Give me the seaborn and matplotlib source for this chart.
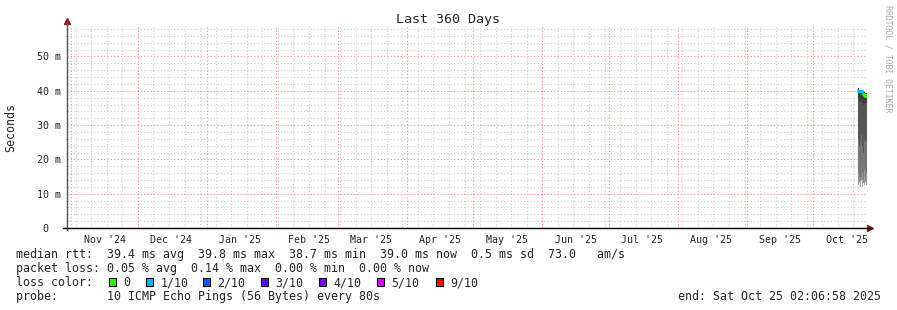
import datetime as dt
import numpy as np
import pandas as pd
import matplotlib
matplotlib.use("Agg")
import matplotlib.pyplot as plt
import matplotlib.dates as mdates
from matplotlib.patches import Rectangle
import seaborn as sns

# ---------------- data ----------------
end_time = dt.datetime(2025, 10, 25, 2, 6, 58)
span_days = 360
# sample times, in days before the end of the graph
days_before_end = [4.05, 3.6, 3.15, 2.7, 2.25, 1.8, 1.35, 0.9, 0.45, 0.0]
ping_max = [40.8, 40.3, 40.2, 40.1, 39.9, 39.7, 39.6, 39.5, 39.5, 39.5]
ping_p4 = [37.5, 37.0, 36.8, 37.2, 36.5, 36.0, 36.2, 36.5, 36.4, 36.4]
ping_p3 = [26.0, 24.0, 25.0, 27.0, 24.0, 22.0, 25.0, 26.0, 25.0, 25.0]
ping_p2 = [16.0, 15.0, 14.0, 15.0, 16.0, 14.0, 17.0, 15.0, 16.0, 16.0]
ping_min = [12.5, 13.5, 12.0, 14.0, 12.0, 13.0, 12.5, 13.5, 12.5, 12.5]
median_ms = [40.0, 40.0, 39.9, 39.9, 39.8, 39.2, 38.8, 38.6, 38.8, 38.8]
loss_level = ["1/10", "1/10", "1/10", "1/10", "1/10", "0", "0", "0", "0", "0"]

loss_labels = ["0", "1/10", "2/10", "3/10", "4/10", "5/10", "9/10"]
loss_colors = ["#26ff00", "#00b8ff", "#0059ff", "#5e00ff", "#7e00ff", "#dd00ff", "#ff0000"]

y_ticks = [0, 10, 20, 30, 40, 50]
y_tick_labels = ["0  ", "10 m", "20 m", "30 m", "40 m", "50 m"]
month_labels = ["Nov '24", "Dec '24", "Jan '25", "Feb '25", "Mar '25", "Apr '25",
                "May '25", "Jun '25", "Jul '25", "Aug '25", "Sep '25", "Oct '25"]

stats_line1 = "median rtt:  39.4 ms avg  39.8 ms max  38.7 ms min  39.0 ms now  0.5 ms sd  73.0   am/s"
stats_line2 = "packet loss: 0.05 % avg  0.14 % max  0.00 % min  0.00 % now"
stats_line3 = "loss color:"
stats_line4 = "probe:       10 ICMP Echo Pings (56 Bytes) every 80s"
end_text = "end: Sat Oct 25 02:06:58 2025"
title = "Last 360 Days"

# ---------------- figure ----------------
sns.set_theme(style="white")
plt.rcParams["font.family"] = ["DejaVu Sans Mono"]

W, H = 897, 310
fig = plt.figure(figsize=(W / 100, H / 100), dpi=100, facecolor="white")
ax_l, ax_r, ax_t, ax_b = 67, 867, 27, 228
ax = fig.add_axes([ax_l / W, 1 - ax_b / H, (ax_r - ax_l) / W, (ax_b - ax_t) / H])
ax.set_facecolor("white")

start_time = end_time - dt.timedelta(days=span_days)
times = [end_time - dt.timedelta(days=d) for d in days_before_end]
df = pd.DataFrame({"time": times, "median": median_ms, "loss": loss_level,
                   "max": ping_max, "p4": ping_p4, "p3": ping_p3,
                   "p2": ping_p2, "min": ping_min})

ax.set_xlim(start_time, end_time)
ax.set_ylim(0, 58.6)

# grid: minor gray (weekly / 2 ms), major red (monthly / 10 ms)
grid_gray = "#cccccc"
grid_red = "#ff8a8a"
gkw = dict(lw=0.8, ls=(0, (1, 2)))
d = dt.datetime(2024, 11, 3)
while d < end_time:
    ax.axvline(d, color=grid_gray, zorder=0, **gkw)
    d += dt.timedelta(days=7)
for v in np.arange(2, 58.6, 2):
    if v % 10:
        ax.axhline(v, color=grid_gray, zorder=0, **gkw)
month_starts = [dt.datetime(2024 + (10 + i) // 12, (10 + i) % 12 + 1, 1) for i in range(12)]
for m in month_starts:
    ax.axvline(m, color=grid_red, zorder=0.5, **gkw)
for v in y_ticks[1:]:
    ax.axhline(v, color=grid_red, zorder=0.5, **gkw)

# smoke
smoke = [("p4", "max", "#3c3c3c"), ("p3", "p4", "#555555"),
         ("p2", "p3", "#777777"), ("min", "p2", "#9a9a9a")]
for lo, hi, col in smoke:
    ax.fill_between(df["time"], df[lo], df[hi], step="post", color=col, lw=0, zorder=2)

# median, coloured by loss
pal = dict(zip(loss_labels, loss_colors))
sns.lineplot(data=df, x="time", y="median", hue="loss", palette=pal,
             drawstyle="steps-post", lw=2.2, legend=False, ax=ax, zorder=3,
             estimator=None)

# axes styling
for s in ["top", "right"]:
    ax.spines[s].set_visible(False)
ax.spines["left"].set_color("#555555")
ax.spines["bottom"].set_color("black")
ax.spines["left"].set_linewidth(1)
ax.spines["bottom"].set_linewidth(1)
ax.spines["bottom"].set_bounds(mdates.date2num(start_time - dt.timedelta(days=2)),
                               mdates.date2num(end_time + dt.timedelta(days=1.5)))
ax.spines["left"].set_bounds(-0.7, 60.0)
ax.plot([0], [1.03], marker="^", color="#8b1a1a", ms=4, transform=ax.transAxes, clip_on=False)
ax.plot([1.004], [0], marker=">", color="#8b1a1a", ms=4, transform=ax.transAxes, clip_on=False)

ax.set_yticks(y_ticks)
ax.set_yticklabels(y_tick_labels)
ax.set_yticks(np.arange(0, 58.6, 2), minor=True)
ax.tick_params(axis="y", which="major", length=4, width=0.8, color="#555555", pad=2,
               labelsize=7.2, direction="inout")
ax.tick_params(axis="y", which="minor", length=2, width=0.5, color="#999999",
               direction="inout", left=True)
mid_months = [m + dt.timedelta(days=15) for m in month_starts]
ax.set_xticks(mid_months)
ax.set_xticklabels(month_labels)
ax.tick_params(axis="x", length=0, pad=5, labelsize=7.2)
ax.set_xlabel("")
ax.set_ylabel("Seconds", fontsize=8.4)
ax.yaxis.set_label_coords(-50 / 800, 0.5)

fig.text(448 / W, 1 - 19 / H, title, ha="center", va="center", fontsize=9.6)
fig.text(888 / W, 1 - 5 / H, "RRDTOOL / TOBI OETIKER", rotation=270, ha="center",
         va="top", fontsize=5.9, color="#aaaaaa")

fs = 8.4
fig.text(16 / W, 1 - 258 / H, stats_line1, fontsize=fs, va="baseline")
fig.text(16 / W, 1 - 272 / H, stats_line2, fontsize=fs, va="baseline")
fig.text(16 / W, 1 - 286 / H, stats_line3, fontsize=fs, va="baseline")
fig.text(16 / W, 1 - 300 / H, stats_line4, fontsize=fs, va="baseline")
fig.text(881 / W, 1 - 300 / H, end_text, fontsize=fs, va="baseline", ha="right")

sq_x = [109, 146, 203, 261, 319, 377, 436]
for x, lab, col in zip(sq_x, loss_labels, loss_colors):
    fig.patches.append(Rectangle((x / W, 1 - 286 / H), 7 / W, 8 / H, transform=fig.transFigure,
                                 facecolor=col, edgecolor="black", lw=0.8))
    fig.text((x + 14.5) / W, 1 - 286 / H, lab, fontsize=fs, va="baseline")

fig.savefig("out.png", dpi=100, facecolor="white")
